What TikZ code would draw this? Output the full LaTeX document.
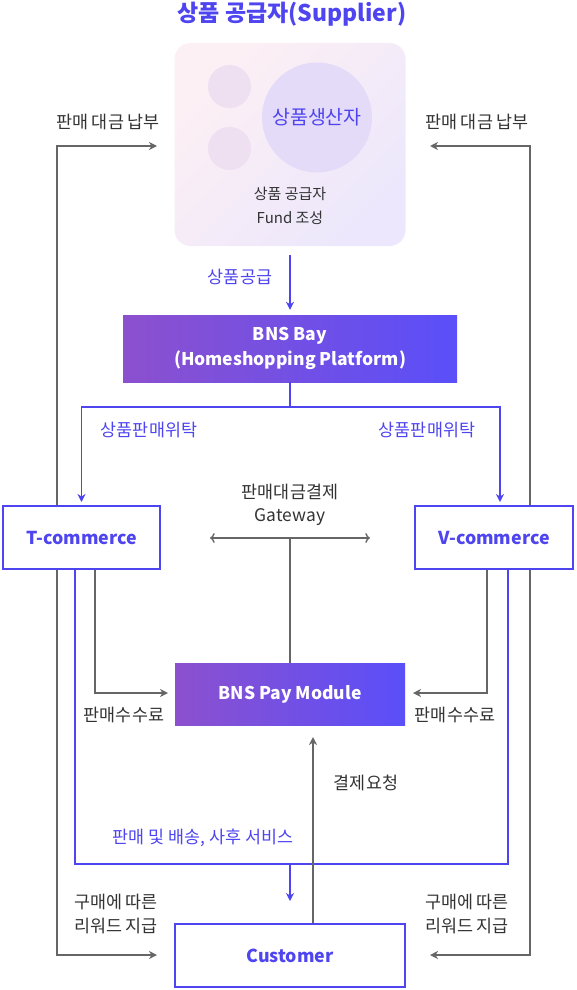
\documentclass[tikz,border=0pt]{standalone}
\usepackage{fontspec}
\setmainfont{Noto Sans CJK KR}
\usetikzlibrary{arrows.meta}
\definecolor{accent}{HTML}{4F45F0}
\definecolor{edgegray}{HTML}{666666}
\definecolor{txt}{HTML}{333333}
\definecolor{padleft}{HTML}{8C50CE}
\definecolor{padright}{HTML}{5A4FF9}
\definecolor{suptl}{HTML}{FDF0F4}
\definecolor{supbr}{HTML}{ECE7FC}
\definecolor{dotfill}{HTML}{EEDFF1}
\definecolor{makerfill}{HTML}{E4DBF8}

\begin{document}
\begin{tikzpicture}[x=1pt,y=-1pt]
\tikzset{grad/.style = {shading=axis,left color=padleft,right color=padright,text=white,font=\bfseries\fontsize{17.5}{25}\selectfont,align=center}}
\tikzset{outline/.style = {draw=accent,line width=2pt,fill=white,text=accent,font=\bfseries\fontsize{17.8}{20}\selectfont}}
\tikzset{lbl/.style = {text=txt,font=\fontsize{17.4}{24}\selectfont,align=center}}
\tikzset{blbl/.style = {lbl,text=accent}}
\tikzset{edge/.style = {draw=edgegray,line width=1.4pt,-{Stealth[length=8pt,width=8pt,inset=2.5pt]}}}
\tikzset{bedge/.style = {draw=accent,line width=1.4pt,-{Stealth[length=8pt,width=8pt,inset=2.5pt]}}}
\tikzset{bline/.style = {draw=accent,line width=1.4pt}}
\useasboundingbox (0,0) rectangle (576,990);
% title and supplier box
\node[text=accent,font=\bfseries\fontsize{23}{26}\selectfont] (title) at (292,14) {상품 공급자(Supplier)};
\node[rounded corners=16pt,minimum width=231pt,minimum height=203pt,left color=suptl,right color=supbr,shading angle=45] (sup) at (290,144.5) {};
\fill[fill=dotfill] (229.5,86.5) circle (21.5pt);
\fill[fill=dotfill] (229.5,148.5) circle (21.5pt);
\node[circle,minimum size=110pt,fill=makerfill,text=accent,font=\fontsize{19.5}{22}\selectfont] (maker) at (317,117.5) {상품생산자};
\node[lbl,font=\fontsize{15}{24}\selectfont] (fund) at (290,206) {상품 공급자\\Fund 조성};
% boxes
\node[grad,minimum width=334pt,minimum height=67pt] (bay) at (290,348.5) {BNS Bay\\(Homeshopping Platform)};
\node[outline,minimum width=157pt,minimum height=63pt] (tc) at (81.5,537.5) {T-commerce};
\node[outline,minimum width=158pt,minimum height=63pt] (vc) at (494,537.5) {V-commerce};
\node[grad,minimum width=230pt,minimum height=62pt] (pay) at (290,694) {BNS Pay Module};
\node[outline,minimum width=230pt,minimum height=63pt] (cust) at (290,955.5) {Customer};
% helper coordinates
\coordinate (lx) at (57,0);
\coordinate (rx) at (530,0);
\coordinate (sl) at (157,146);
\coordinate (sr) at (430,146);
\coordinate (cl) at (157,955);
\coordinate (cr) at (430,955);
\coordinate (split) at (290,407);
\coordinate (vin) at (500,0);
\coordinate (gw) at (290,538);
\coordinate (gwl) at (210,538);
\coordinate (gwr) at (370,538);
\coordinate (fl) at (95,693);
\coordinate (fr) at (487,693);
\coordinate (flt) at (168,693);
\coordinate (frt) at (413,693);
\coordinate (blx) at (75,0);
\coordinate (brx) at (508,0);
\coordinate (loop) at (290,864);
\coordinate (svc) at (290,901);
\coordinate (req) at (313,737);
% labels
\node[lbl] (payl) at (108,122) {판매 대금 납부};
\node[lbl] (payr) at (477,122) {판매 대금 납부};
\node[blbl] (supply) at (240,277) {상품공급};
\node[blbl] (consl) at (149,430) {상품판매위탁};
\node[blbl] (consr) at (427,430) {상품판매위탁};
\node[lbl,font=\fontsize{17.4}{23}\selectfont] (gate) at (290,504.5) {판매대금결제\\Gateway};
\node[lbl] (feel) at (124,715) {판매수수료};
\node[lbl] (feer) at (455,715) {판매수수료};
\node[lbl] (reql) at (366,783) {결제요청};
\node[blbl] (svcl) at (203,838) {판매 및 배송, 사후 서비스};
\node[lbl] (rwl) at (116,914) {구매에 따른\\리워드 지급};
\node[lbl] (rwr) at (467,914) {구매에 따른\\리워드 지급};
% edges
\draw[edge] (tc.north -| lx) |- (sl);
\draw[edge] (vc.north -| rx) |- (sr);
\draw[edge] (tc.south -| lx) |- (cl);
\draw[edge] (vc.south -| rx) |- (cr);
\draw[bedge,shorten <=9pt,shorten >=5pt] (sup.south) -- (bay.north);
\draw[bline] (bay.south) -- (split);
\draw[bedge,shorten >=3pt] (split) -| (tc.north);
\draw[bedge,shorten >=3pt] (split) -| (vin |- vc.north);
\draw[edge,<->] (gwl) -- (gwr);
\draw[draw=edgegray,line width=1.4pt] (gw) -- (pay.north);
\draw[edge] (tc.south -| fl) |- (flt);
\draw[edge] (vc.south -| fr) |- (frt);
\draw[bline] (tc.south -| blx) |- (loop) -| (vc.south -| brx);
\draw[bedge] (loop) -- (svc);
\draw[edge] (cust.north -| req) -- (req);
\end{tikzpicture}
\end{document}
